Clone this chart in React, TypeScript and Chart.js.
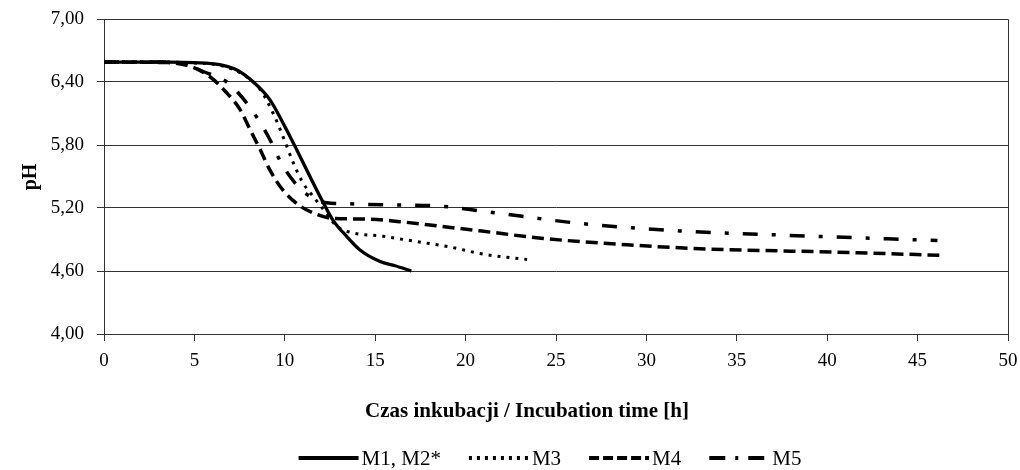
import { useEffect, useRef } from 'react';
import { Chart, registerables } from 'chart.js';

Chart.register(...registerables);

const seriesNames = ['M1, M2*', 'M3', 'M4', 'M5'];

const m1X = [0, 3.6, 5, 6.4, 7.4, 8.26, 9.18, 9.9, 10.66, 11.39, 12.13, 12.68, 13.42, 14.16, 15.27, 16.1, 17.0];
const m1Y = [6.59, 6.59, 6.585, 6.565, 6.51, 6.4, 6.23, 6.01, 5.755, 5.5, 5.25, 5.08, 4.93, 4.8, 4.69, 4.65, 4.6];

const m3X = [0, 3.6, 5, 6.4, 7.6, 8.63, 9.36, 9.9, 10.47, 11.0, 11.57, 12.3, 12.85, 13.6, 15.45, 17.3, 19.1, 21, 23.4];
const m3Y = [6.59, 6.59, 6.58, 6.56, 6.48, 6.33, 6.1, 5.88, 5.63, 5.44, 5.31, 5.15, 5.03, 4.97, 4.93, 4.88, 4.83, 4.76, 4.71];

const m4X = [0, 3.5, 4.76, 5.86, 6.77, 7.52, 8.07, 8.63, 9.18, 9.9, 10.84, 11.76, 12.68, 14.5, 16.35, 18.4, 20.9, 24.3, 28.9, 33.3, 40.4, 46.2];
const m4Y = [6.59, 6.585, 6.55, 6.45, 6.3, 6.14, 5.95, 5.76, 5.56, 5.37, 5.22, 5.14, 5.1, 5.095, 5.07, 5.03, 4.98, 4.91, 4.85, 4.81, 4.78, 4.75];

const m5X = [0, 3.6, 4.6, 5.49, 6.87, 7.8, 8.54, 9.18, 9.8, 10.56, 11.39, 12.3, 13.5, 15.45, 18.4, 20.9, 26.5, 32, 37.8, 46.1];
const m5Y = [6.59, 6.59, 6.56, 6.5, 6.39, 6.22, 6.04, 5.85, 5.63, 5.44, 5.31, 5.25, 5.24, 5.23, 5.22, 5.17, 5.05, 4.98, 4.94, 4.89];

const xTitle = 'Czas inkubacji / Incubation time [h]';
const yTitle = 'pH';

const FONT = '"Liberation Serif", "Times New Roman", serif';

const dashes = [[], [3, 6], [12, 6], [15, 14, 4, 14]];
const legendDashes = [[], [3, 5], [10, 4], [16, 10, 3, 10]];
const widths = [3.3, 3, 3.5, 3.5];

const toPts = (xs: number[], ys: number[]) => xs.map((x, i) => ({ x, y: ys[i] }));

const frame = {
  id: 'frame',
  afterDatasetsDraw(chart: any) {
    const { ctx, chartArea } = chart;
    ctx.save();
    ctx.strokeStyle = '#333';
    ctx.lineWidth = 1;
    ctx.beginPath();
    ctx.moveTo(chartArea.left, chartArea.top + 0.5);
    ctx.lineTo(chartArea.right + 0.5, chartArea.top + 0.5);
    ctx.lineTo(chartArea.right + 0.5, chartArea.bottom);
    ctx.stroke();
    ctx.restore();
  },
};

const titlesPlugin = {
  id: 'titles',
  afterDraw(chart: any) {
    const ctx = chart.ctx;
    ctx.save();
    ctx.fillStyle = '#000';
    ctx.textAlign = 'center';
    ctx.textBaseline = 'middle';
    ctx.font = `bold 21px ${FONT}`;
    ctx.fillText(xTitle, 527, 412);
    ctx.translate(31, 177);
    ctx.rotate(-Math.PI / 2);
    ctx.font = `bold 20px ${FONT}`;
    ctx.fillText(yTitle, 0, 0);
    ctx.restore();
  },
};

const legendPlugin = {
  id: 'customLegend',
  afterDraw(chart: any) {
    const ctx = chart.ctx;
    ctx.save();
    ctx.font = `21px ${FONT}`;
    const lineLen = 60;
    const textGap = 3;
    const itemGap = 28;
    const ws = seriesNames.map((n) => ctx.measureText(n).width);
    const total = ws.reduce((a, w) => a + lineLen + textGap + w, 0) + itemGap * (seriesNames.length - 1);
    let x = 550 - total / 2;
    const y = 458;
    seriesNames.forEach((n, i) => {
      ctx.beginPath();
      ctx.setLineDash(legendDashes[i]);
      ctx.lineWidth = 4;
      ctx.strokeStyle = '#000';
      ctx.moveTo(x, y);
      ctx.lineTo(x + lineLen, y);
      ctx.stroke();
      ctx.setLineDash([]);
      ctx.fillStyle = '#000';
      ctx.textAlign = 'left';
      ctx.textBaseline = 'middle';
      ctx.fillText(n, x + lineLen + textGap, y + 1);
      x += lineLen + textGap + ws[i] + itemGap;
    });
    ctx.restore();
  },
};

export default function App() {
  const ref = useRef<HTMLCanvasElement>(null);
  useEffect(() => {
    if (!ref.current) return;
    const data = [toPts(m1X, m1Y), toPts(m3X, m3Y), toPts(m4X, m4Y), toPts(m5X, m5Y)];
    const chart = new Chart(ref.current, {
      type: 'line',
      data: {
        datasets: data.map((d, i) => ({
          label: seriesNames[i],
          data: d,
          borderColor: '#000',
          backgroundColor: '#000',
          borderWidth: widths[i],
          borderDash: dashes[i],
          pointRadius: 0,
          pointHoverRadius: 0,
          cubicInterpolationMode: 'monotone' as const,
          fill: false,
        })),
      },
      options: {
        animation: false,
        responsive: false,
        layout: { autoPadding: false, padding: { left: 0, right: 12, top: 19, bottom: 0 } },
        plugins: {
          legend: { display: false },
          tooltip: { enabled: false },
        },
        scales: {
          x: {
            type: 'linear',
            min: 0,
            max: 50,
            afterFit: (s: any) => {
              s.height = 136;
              s.paddingLeft = 0;
              s.paddingRight = 0;
            },
            ticks: {
              stepSize: 5,
              color: '#000',
              font: { family: FONT, size: 19 },
              padding: 9,
              maxRotation: 0,
            },
            grid: { drawOnChartArea: false, drawTicks: true, tickLength: 7, color: '#333' },
            border: { display: true, color: '#333' },
            title: { display: false },
          },
          y: {
            min: 4,
            max: 7,
            afterFit: (s: any) => {
              s.width = 104;
              s.paddingTop = 0;
              s.paddingBottom = 0;
            },
            ticks: {
              stepSize: 0.6,
              color: '#000',
              font: { family: FONT, size: 19 },
              padding: 13,
              callback: (v: any) => Number(v).toFixed(2).replace('.', ','),
            },
            grid: { color: '#333', tickLength: 7, lineWidth: 1 },
            border: { display: true, color: '#333' },
            title: { display: false },
          },
        },
      },
      plugins: [frame, titlesPlugin, legendPlugin],
    });
    return () => chart.destroy();
  }, []);
  return (
    <canvas
      ref={ref}
      width={1020}
      height={470}
      style={{ position: 'absolute', left: 0, top: 0, display: 'block', background: '#fff' }}
    />
  );
}
